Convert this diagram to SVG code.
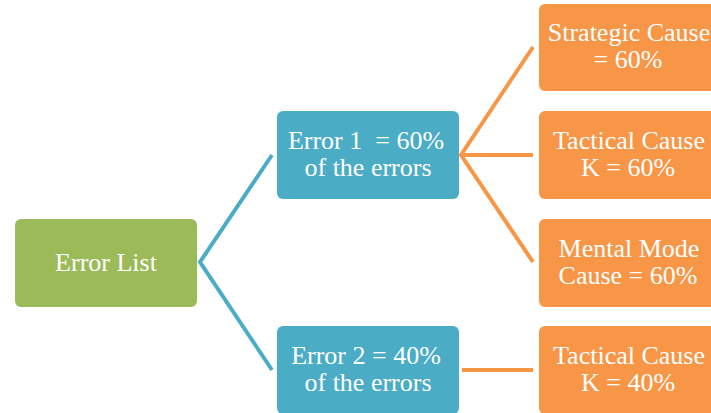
<svg xmlns="http://www.w3.org/2000/svg" width="711" height="413" viewBox="0 0 711 413">
<style>
.box{stroke:none}
.g{fill:#9BBB59}
.b{fill:#4BACC6}
.o{fill:#F79646}
text{font-family:"Liberation Serif","Times New Roman",serif;font-size:26px;fill:#FFFFFF;text-anchor:middle;white-space:pre}
.cb{stroke:#4BACC6;stroke-width:4;fill:none}
.co{stroke:#F79646;stroke-width:4;fill:none}
</style>
<rect width="711" height="413" fill="#FFFFFF"/>
<g id="connectors">
<polyline class="cb" points="272,155 200,262 272,370"/>
<polyline class="co" points="533,47 461,155 533,262"/>
<line class="co" x1="461" y1="155" x2="533" y2="155"/>
<line class="co" x1="462" y1="370" x2="533" y2="370"/>
</g>
<g id="error-list">
<rect class="box g" x="15" y="219" width="182" height="88" rx="6"/>
<text x="106" y="271">Error List</text>
</g>
<g id="error-1">
<rect class="box b" x="277" y="111" width="182" height="88" rx="6"/>
<text x="366" y="149" xml:space="preserve">Error 1  = 60%</text>
<text x="368" y="176">of the errors</text>
</g>
<g id="error-2">
<rect class="box b" x="277" y="326" width="182" height="88" rx="6"/>
<text x="366" y="364">Error 2 = 40%</text>
<text x="368" y="391">of the errors</text>
</g>
<g id="strategic-cause">
<rect class="box o" x="539" y="4" width="182" height="87" rx="6"/>
<text x="629" y="41">Strategic Cause</text>
<text x="628" y="68">= 60%</text>
</g>
<g id="tactical-cause-60">
<rect class="box o" x="539" y="111" width="182" height="88" rx="6"/>
<text x="629" y="149">Tactical Cause</text>
<text x="628" y="176">K = 60%</text>
</g>
<g id="mental-mode-cause">
<rect class="box o" x="539" y="219" width="182" height="88" rx="6"/>
<text x="629" y="257">Mental Mode</text>
<text x="628" y="284">Cause = 60%</text>
</g>
<g id="tactical-cause-40">
<rect class="box o" x="539" y="326" width="182" height="88" rx="6"/>
<text x="629" y="364">Tactical Cause</text>
<text x="628" y="391">K = 40%</text>
</g>
</svg>
